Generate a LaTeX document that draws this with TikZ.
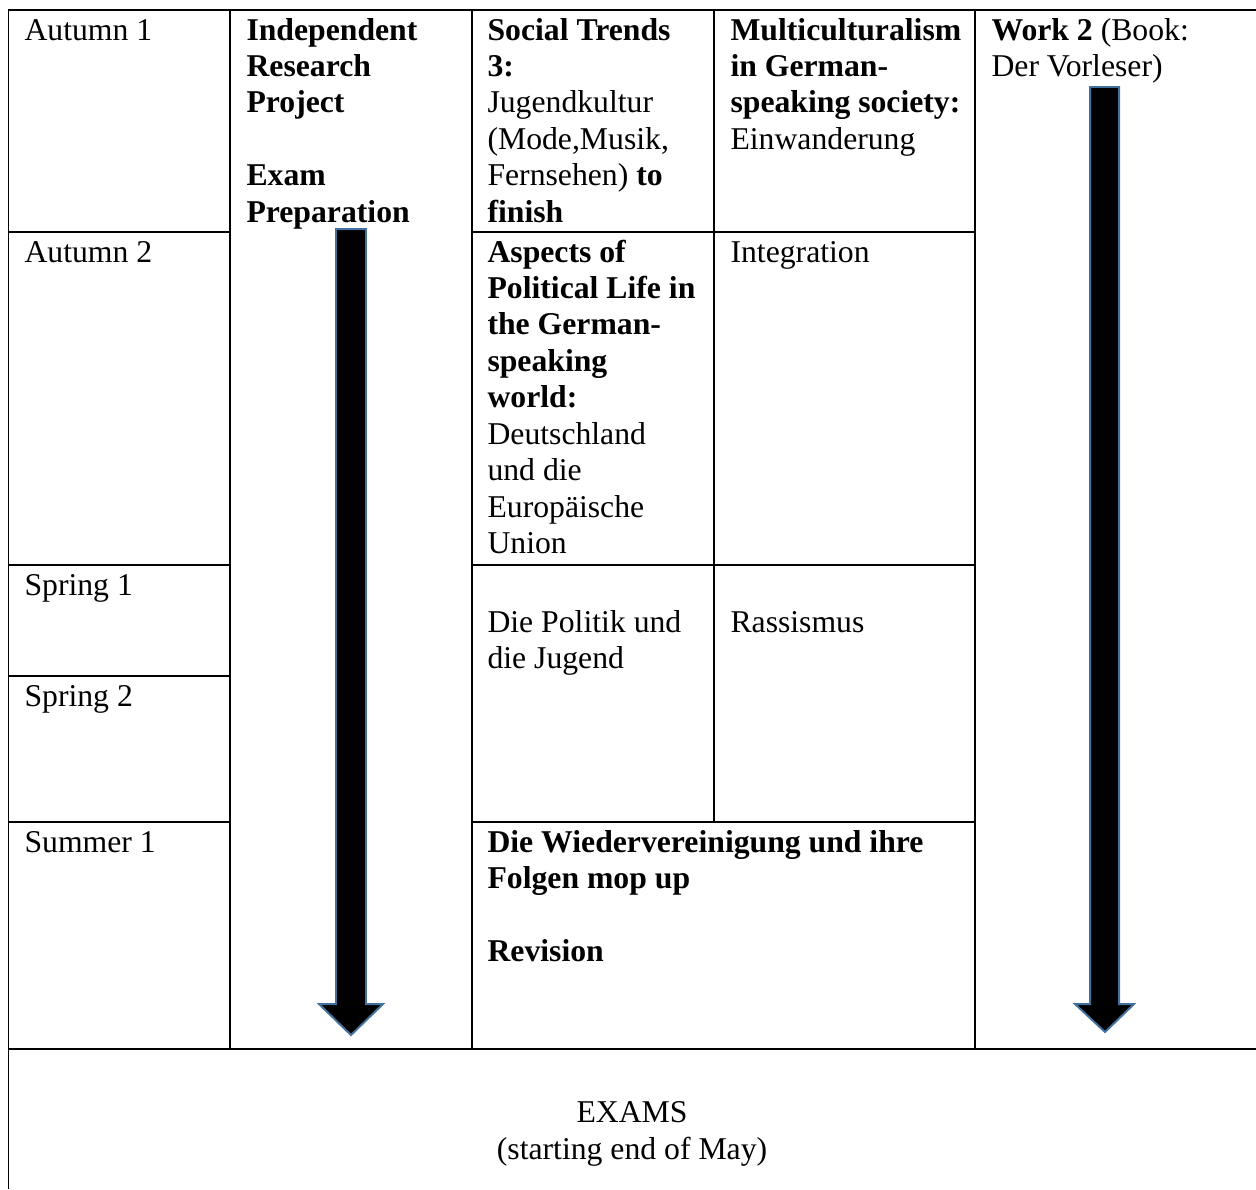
\documentclass[tikz,border=0pt]{standalone}
\usepackage{fontspec}
\setmainfont{Liberation Serif}
\definecolor{arrowline}{RGB}{65,113,156}
\begin{document}
\begin{tikzpicture}[x=0.3785pt,y=-0.3785pt,
  grid/.style={line width=0.5pt,black},
  thickgrid/.style={line width=0.85pt,black},
  celltext/.style={anchor=base west,inner sep=0pt,align=left,font={\fontsize{12}{13.8}\selectfont}},
  centertext/.style={anchor=base,inner sep=0pt,align=center,font={\fontsize{12}{13.8}\selectfont}},
  blockarrow/.style={fill=black,draw=arrowline,line width=0.75pt,line join=miter}]
\useasboundingbox (0,0) rectangle (1256,1189);
% outer border
\draw[grid] (8.5,1189) -- (8.5,10) -- (1256,10);
% column lines
\draw[grid] (230,10) -- (230,1049);
\draw[grid] (472,10) -- (472,1049);
\draw[grid] (714,10) -- (714,822);
\draw[grid] (975,10) -- (975,1049);
% row lines, first column
\draw[grid] (8.5,232) -- (230,232);
\draw[grid] (8.5,565) -- (230,565);
\draw[grid] (8.5,676) -- (230,676);
\draw[grid] (8.5,822) -- (230,822);
% row lines, third and fourth columns
\draw[grid] (472,232) -- (975,232);
\draw[grid] (472,565) -- (975,565);
\draw[grid] (472,822) -- (975,822);
% bottom line
\draw[thickgrid] (8.5,1049) -- (1256,1049);
% arrows
\draw[blockarrow] (336,229) -- (366,229) -- (366,1004) -- (383,1004) -- (351,1035) -- (319,1004) -- (336,1004) -- cycle;
\draw[blockarrow] (1090,87) -- (1119,87) -- (1119,1004) -- (1134,1004) -- (1105,1032) -- (1075,1004) -- (1090,1004) -- cycle;
% (multi-line nodes are placed by the baseline of their last line)
% first column
\node[celltext] (aut1) at (24,40) {Autumn 1};
\node[celltext] (aut2) at (24,262) {Autumn 2};
\node[celltext] (spr1) at (24,595) {Spring 1};
\node[celltext] (spr2) at (24,706) {Spring 2};
\node[celltext] (sum1) at (24,852) {Summer 1};
% second column
\node[celltext] (irp) at (246,222.3) {\textbf{Independent}\\\textbf{Research}\\\textbf{Project}\\[13.8pt]\textbf{Exam}\\\textbf{Preparation}};
% third column
\node[celltext] (soc) at (487,222.3) {\textbf{Social Trends}\\\textbf{3:}\\Jugendkultur\\(Mode,Musik,\\Fernsehen) \textbf{to}\\\textbf{finish}};
\node[celltext] (pol) at (487,553.7) {\textbf{Aspects of}\\\textbf{Political Life in}\\\textbf{the German-}\\\textbf{speaking}\\\textbf{world:}\\Deutschland\\und die\\Europäische\\Union};
\node[celltext] (jug) at (487,668.5) {Die Politik und\\die Jugend};
\node[celltext] (wie) at (487,961.4) {\textbf{Die Wiedervereinigung und ihre}\\\textbf{Folgen mop up}\\[13.8pt]\textbf{Revision}};
% fourth column
\node[celltext] (mul) at (730,149.4) {\textbf{Multiculturalism}\\\textbf{in German-}\\\textbf{speaking society:}\\Einwanderung};
\node[celltext] (int) at (730,262) {Integration};
\node[celltext] (ras) at (730,632) {Rassismus};
% fifth column
\node[celltext] (work) at (991,76.5) {\textbf{Work 2} (Book:\\Der Vorleser)};
% exams row
\node[centertext] (exams) at (632,1159) {EXAMS\\(starting end of May)};
\end{tikzpicture}
\end{document}
